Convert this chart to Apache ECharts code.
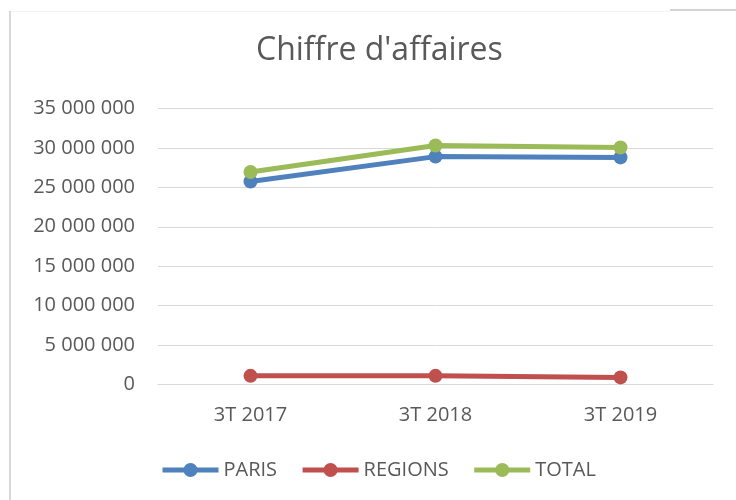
<!DOCTYPE html>
<html>
<head>
<meta charset="utf-8">
<script src="https://cdn.jsdelivr.net/npm/echarts@6/dist/echarts.min.js"></script>
<style>
  html, body { margin: 0; padding: 0; background: #fff; }
  #chart { width: 736px; height: 500px; }
</style>
</head>
<body>
<div id="chart"></div>
<script>
const categories = ['3T 2017', '3T 2018', '3T 2019'];
const paris = [25750000, 28900000, 28800000];
const regions = [1100000, 1100000, 900000];
const total = [26950000, 30300000, 30050000];

const textColor = '#595959';
const fontFamily = '"Open Sans", sans-serif';

const fmt = (v) => String(v).replace(/\B(?=(\d{3})+(?!\d))/g, ' ');

const makeSeries = (name, data, color) => ({
  name,
  type: 'line',
  data,
  symbol: 'circle',
  symbolSize: 14,
  itemStyle: { color },
  lineStyle: { color, width: 5 },
  emphasis: { disabled: true },
  animation: false
});

const chart = echarts.init(document.getElementById('chart'));
chart.setOption({
  backgroundColor: '#fff',
  textStyle: { fontFamily },
  title: {
    text: "Chiffre d'affaires",
    left: 256,
    top: 35,
    padding: 0,
    textStyle: { color: textColor, fontSize: 32, fontWeight: 'normal', fontFamily }
  },
  grid: { left: 158, right: 23, top: 108.5, bottom: 115.5 },
  legend: {
    left: 160,
    top: 460,
    padding: 0,
    itemWidth: 56,
    itemHeight: 17.5,
    itemGap: 23,
    lineStyle: { width: 5 },
    textStyle: { color: textColor, fontSize: 20, fontFamily },
    data: ['PARIS', 'REGIONS', 'TOTAL']
  },
  xAxis: {
    type: 'category',
    data: categories,
    axisTick: { show: false },
    axisLine: { lineStyle: { color: '#d9d9d9', width: 1 } },
    axisLabel: { color: textColor, fontSize: 20, margin: 21, fontFamily }
  },
  yAxis: {
    type: 'value',
    min: 0,
    max: 35000000,
    interval: 5000000,
    axisLine: { show: false },
    axisTick: { show: false },
    splitLine: { lineStyle: { color: '#d9d9d9', width: 1 } },
    axisLabel: { color: textColor, fontSize: 20, margin: 23, fontFamily, formatter: fmt }
  },
  graphic: [
    { type: 'rect', shape: { x: 9, y: 11, width: 2, height: 489 }, style: { fill: '#d9d9d9' }, silent: true },
    { type: 'rect', shape: { x: 11, y: 11, width: 659, height: 1 }, style: { fill: '#f4f4f4' }, silent: true },
    { type: 'rect', shape: { x: 670, y: 9, width: 66, height: 2 }, style: { fill: '#d4d4d4' }, silent: true }
  ],
  series: [
    makeSeries('PARIS', paris, '#4f81bd'),
    makeSeries('REGIONS', regions, '#c0504d'),
    makeSeries('TOTAL', total, '#9bbb59')
  ]
});
</script>
</body>
</html>
